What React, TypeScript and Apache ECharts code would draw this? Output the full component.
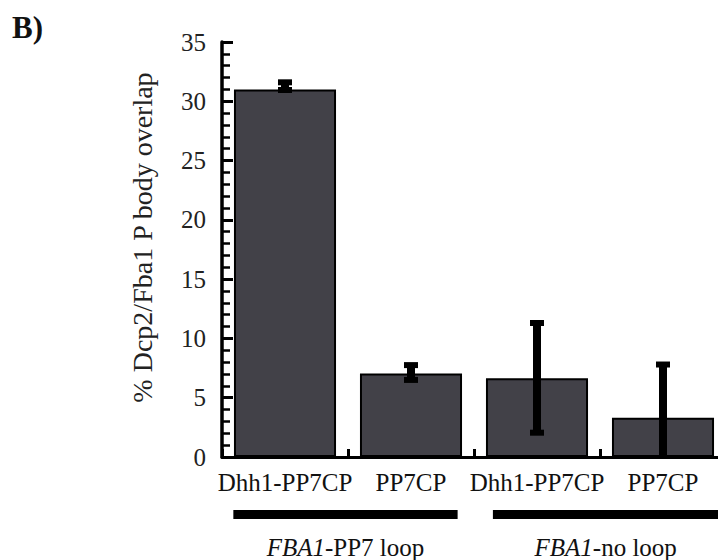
import React, { useEffect, useRef } from "react";
import * as echarts from "echarts";

const categories = ["Dhh1-PP7CP", "PP7CP", "Dhh1-PP7CP", "PP7CP"];
const values = [31.0, 7.05, 6.65, 3.3];
const errorLow = [30.95, 6.5, 2.05, -1.2];
const errorHigh = [31.6, 7.75, 11.3, 7.8];
const groupItalic = ["FBA1", "FBA1"];
const groupRest = ["-PP7 loop", "-no loop"];
const yTicks = { min: 0, max: 35, interval: 5 };
const panelLabel = "B)";
const yTitle = "% Dcp2/Fba1 P body overlap";

const FONT = "'Liberation Serif', 'DejaVu Serif', serif";

export default function App() {
  const ref = useRef<HTMLDivElement>(null);
  useEffect(() => {
    if (!ref.current) return;
    const chart = echarts.init(ref.current, undefined, { renderer: "svg" });
    const option: any = {
      animation: false,
      backgroundColor: "#ffffff",
      grid: { left: 222, right: 0, top: 42, bottom: 103, containLabel: false },
      xAxis: {
        type: "category",
        data: categories,
        axisLine: { lineStyle: { color: "#000", width: 3 } },
        axisTick: { show: true, inside: true, length: 8, interval: 0, lineStyle: { color: "#000", width: 3 } },
        axisLabel: { interval: 0, margin: 13, color: "#111", fontFamily: FONT, fontSize: 25 },
      },
      yAxis: {
        type: "value",
        min: yTicks.min,
        max: yTicks.max,
        interval: yTicks.interval,
        name: yTitle,
        nameLocation: "middle",
        nameGap: 66,
        nameTextStyle: { fontFamily: FONT, fontSize: 28, color: "#222", padding: [0, 0, 0, 24] },
        axisLine: { show: true, lineStyle: { color: "#000", width: 3.5 } },
        axisTick: { show: true, inside: true, length: 11, lineStyle: { color: "#000", width: 3 } },
        minorTick: { show: true, splitNumber: 5, length: 8, lineStyle: { color: "#000", width: 2.5 } },
        splitLine: { show: false },
        axisLabel: { margin: 16, color: "#222", fontFamily: FONT, fontSize: 25, padding: [0, 0, 12, 0] },
      },
      series: [
        {
          type: "bar",
          data: values,
          barWidth: "81%",
          itemStyle: { color: "#424148", borderColor: "#000", borderWidth: 2 },
        },
        {
          type: "custom",
          clip: true,
          z: 10,
          data: values.map((v, i) => [i, errorLow[i], errorHigh[i]]),
          renderItem: (params: any, api: any) => {
            const i = api.value(0);
            const lo = api.coord([i, api.value(1)]);
            const hi = api.coord([i, api.value(2)]);
            const capW = 14;
            const capH = 6;
            return {
              type: "group",
              children: [
                {
                  type: "line",
                  shape: { x1: hi[0], y1: hi[1], x2: lo[0], y2: lo[1] },
                  style: { stroke: "#000", lineWidth: 8 },
                },
                {
                  type: "rect",
                  shape: { x: hi[0] - capW / 2, y: hi[1] - capH / 2, width: capW, height: capH },
                  style: { fill: "#000" },
                },
                {
                  type: "rect",
                  shape: { x: lo[0] - capW / 2, y: lo[1] - capH / 2, width: capW, height: capH },
                  style: { fill: "#000" },
                },
              ],
            };
          },
        },
      ],
    };
    chart.setOption(option);

    const c0 = chart.convertToPixel({ xAxisIndex: 0 }, 0) as number;
    const c1 = chart.convertToPixel({ xAxisIndex: 0 }, 1) as number;
    const c2 = chart.convertToPixel({ xAxisIndex: 0 }, 2) as number;
    const c3 = chart.convertToPixel({ xAxisIndex: 0 }, 3) as number;
    const band = c1 - c0;
    const g1 = [c0 - 0.41 * band, c1 + 0.37 * band];
    const g2 = [c2 - 0.35 * band, c3 + 0.44 * band];
    const barY = 510;
    const barH = 9;
    const labelY = 547;
    const mkGroup = (g: number[], k: number) => [
      { type: "rect", shape: { x: g[0], y: barY, width: g[1] - g[0], height: barH }, style: { fill: "#000" } },
      {
        type: "text",
        x: (g[0] + g[1]) / 2,
        y: labelY,
        style: {
          text: `{i|${groupItalic[k]}}{n|${groupRest[k]}}`,
          align: "center",
          verticalAlign: "middle",
          rich: {
            i: { fontFamily: FONT, fontStyle: "italic", fontSize: 25, fill: "#111" },
            n: { fontFamily: FONT, fontSize: 25, fill: "#111" },
          },
        },
      },
    ];
    chart.setOption({
      graphic: [
        ...mkGroup(g1, 0),
        ...mkGroup(g2, 1),
        {
          type: "text",
          x: 12,
          y: 12,
          style: { text: panelLabel, fontFamily: FONT, fontWeight: "bold", fontSize: 31, fill: "#111" },
        },
      ],
    });
    return () => chart.dispose();
  }, []);
  return <div ref={ref} style={{ position: "fixed", left: 0, top: 0, width: 726, height: 560 }} />;
}
